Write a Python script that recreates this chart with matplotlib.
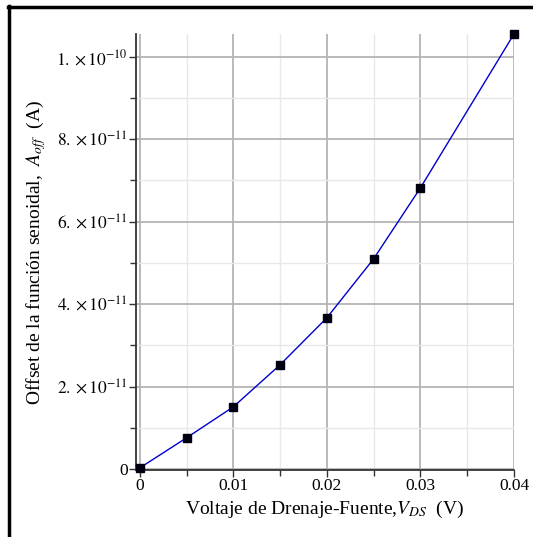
import matplotlib
matplotlib.use("Agg")
import matplotlib.pyplot as plt
from matplotlib.lines import Line2D
from matplotlib.ticker import MultipleLocator, FuncFormatter

plt.rcParams["font.family"] = ["Liberation Serif", "DejaVu Serif"]
plt.rcParams["mathtext.fontset"] = "stix"

# Drain-source voltage (V) and fitted sinusoid offset (A)
vds = [0.0, 0.005, 0.01, 0.015, 0.02, 0.025, 0.03, 0.04]
a_off = [0.03e-11, 0.76e-11, 1.51e-11, 2.53e-11, 3.67e-11, 5.10e-11, 6.82e-11, 10.55e-11]

x_ticks = [0, 0.01, 0.02, 0.03, 0.04]
x_tick_labels = ["0", "0.01", "0.02", "0.03", "0.04"]


def y_fmt(v, pos):
    if abs(v) < 1e-20:
        return "0"
    exp = 0
    m = v
    while abs(m) < 1:
        m *= 10
        exp -= 1
    return r"$%d.\times10^{%d}$" % (round(m), exp)


fig = plt.figure(figsize=(5.33, 5.37), dpi=100)
ax = fig.add_axes([136 / 533, 1 - 470 / 537, (514 - 136) / 533, (470 - 34) / 537])

ax.plot(vds, a_off, color="#0000cc", lw=1.0, zorder=3)
ax.plot(vds, a_off, ls="none", marker="s", ms=6, color="#000010", zorder=4, clip_on=False)

ax.set_xlim(-0.0004, 0.04)
ax.set_ylim(-0.02e-11, a_off[-1])

ax.set_xticks(x_ticks)
ax.set_xticklabels(x_tick_labels)
ax.xaxis.set_minor_locator(MultipleLocator(0.005))
ax.yaxis.set_major_locator(MultipleLocator(2e-11))
ax.yaxis.set_minor_locator(MultipleLocator(1e-11))
ax.yaxis.set_major_formatter(FuncFormatter(y_fmt))
ax.yaxis.get_offset_text().set_visible(False)

ax.grid(which="major", color="#b4b4b4", lw=1.3)
ax.grid(which="minor", color="#e8e8e8", lw=1.0)
ax.set_axisbelow(True)

for s in ("top", "right"):
    ax.spines[s].set_visible(False)
for s in ("left", "bottom"):
    ax.spines[s].set_color("#333333")
    ax.spines[s].set_linewidth(1.3)

ax.tick_params(which="major", direction="out", length=5, width=1, color="#333333",
               labelsize=12.5, pad=1)
ax.tick_params(which="minor", direction="out", length=4, width=1, color="#333333")

ax.set_xlabel(r"Voltaje de Drenaje-Fuente,$V_{DS}$  (V)", fontsize=14, labelpad=3)
ax.set_ylabel(r"Offset de la función senoidal,  $A_{off}$  (A)", fontsize=14, labelpad=6)

# Outer frame lines along the top and left edges
fig.add_artist(Line2D([8 / 533, 1.0], [1 - 6.5 / 537, 1 - 6.5 / 537],
                      transform=fig.transFigure, color="black", lw=2.5))
fig.add_artist(Line2D([9 / 533, 9 / 533], [0, 1 - 5.5 / 537],
                      transform=fig.transFigure, color="black", lw=2.5))

fig.savefig("out.png", dpi=100)
